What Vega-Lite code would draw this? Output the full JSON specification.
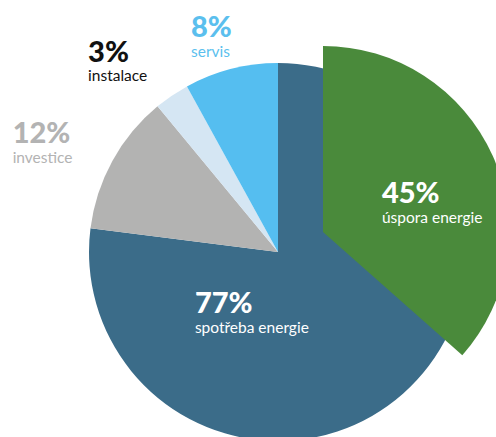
{
  "$schema": "https://vega.github.io/schema/vega-lite/v6.json",
  "width": 436,
  "height": 370,
  "padding": {"left": 60, "top": 67, "right": 0, "bottom": 0},
  "autosize": {"type": "none"},
  "background": "white",
  "view": {"stroke": null},
  "config": {"font": "Lato"},
  "datasets": {
    "main": [
      {"category": "spotřeba energie", "share": 0.77, "order": 1},
      {"category": "investice", "share": 0.12, "order": 2},
      {"category": "instalace", "share": 0.03, "order": 3},
      {"category": "servis", "share": 0.08, "order": 4}
    ],
    "saving": [
      {"category": "úspora energie", "share": 0.45}
    ]
  },
  "resolve": {"scale": {"theta": "independent", "color": "independent"}},
  "layer": [
    {
      "data": {"name": "main"},
      "mark": {"type": "arc", "radius": 189},
      "encoding": {
        "theta": {"field": "share", "type": "quantitative", "stack": true, "scale": {"domain": [0, 1], "range": [0, 6.283185307]}},
        "order": {"field": "order", "type": "quantitative"},
        "color": {"field": "category", "type": "nominal", "legend": null,
          "scale": {"domain": ["spotřeba energie", "investice", "instalace", "servis"], "range": ["#3b6c89", "#b3b3b2", "#d5e6f3", "#55bef0"]}}
      }
    },
    {
      "data": {"name": "saving"},
      "mark": {"type": "arc", "radius": 186, "color": "#4a8a3b", "xOffset": 45, "yOffset": -20},
      "encoding": {
        "theta": {"field": "share", "type": "quantitative", "stack": true, "scale": {"domain": [0, 1], "range": [0, 5.1]}}
      }
    },
    {
      "data": {"name": "main"},
      "mark": {"type": "text", "radius": 80, "dx": -136, "dy": 1, "align": "left", "baseline": "alphabetic", "fontSize": 29, "fontWeight": 900, "color": "white"},
      "encoding": {
        "theta": {"field": "share", "type": "quantitative", "stack": true, "scale": {"domain": [0, 1], "range": [0, 6.283185307]}},
        "order": {"field": "order", "type": "quantitative"},
        "text": {"condition": {"test": "datum.category === 'spotřeba energie'", "field": "share", "type": "quantitative", "format": ".0%"}, "value": ""}
      }
    },
    {
      "data": {"name": "main"},
      "mark": {"type": "text", "radius": 80, "dx": -136, "dy": 21, "align": "left", "baseline": "alphabetic", "fontSize": 15.5, "color": "white"},
      "encoding": {
        "theta": {"field": "share", "type": "quantitative", "stack": true, "scale": {"domain": [0, 1], "range": [0, 6.283185307]}},
        "order": {"field": "order", "type": "quantitative"},
        "text": {"condition": {"test": "datum.category === 'spotřeba energie'", "field": "category", "type": "nominal"}, "value": ""}
      }
    },
    {
      "data": {"name": "main"},
      "mark": {"type": "text", "radius": 280, "dx": -20, "dy": 26, "align": "left", "baseline": "alphabetic", "fontSize": 29, "fontWeight": 900, "color": "#b3b3b3"},
      "encoding": {
        "theta": {"field": "share", "type": "quantitative", "stack": true, "scale": {"domain": [0, 1], "range": [0, 6.283185307]}},
        "order": {"field": "order", "type": "quantitative"},
        "text": {"condition": {"test": "datum.category === 'investice'", "field": "share", "type": "quantitative", "format": ".0%"}, "value": ""}
      }
    },
    {
      "data": {"name": "main"},
      "mark": {"type": "text", "radius": 280, "dx": -20, "dy": 46, "align": "left", "baseline": "alphabetic", "fontSize": 15.5, "color": "#b3b3b3"},
      "encoding": {
        "theta": {"field": "share", "type": "quantitative", "stack": true, "scale": {"domain": [0, 1], "range": [0, 6.283185307]}},
        "order": {"field": "order", "type": "quantitative"},
        "text": {"condition": {"test": "datum.category === 'investice'", "field": "category", "type": "nominal"}, "value": ""}
      }
    },
    {
      "data": {"name": "main"},
      "mark": {"type": "text", "radius": 240, "dx": -55, "dy": 8, "align": "left", "baseline": "alphabetic", "fontSize": 29, "fontWeight": 900, "color": "#111111"},
      "encoding": {
        "theta": {"field": "share", "type": "quantitative", "stack": true, "scale": {"domain": [0, 1], "range": [0, 6.283185307]}},
        "order": {"field": "order", "type": "quantitative"},
        "text": {"condition": {"test": "datum.category === 'instalace'", "field": "share", "type": "quantitative", "format": ".0%"}, "value": ""}
      }
    },
    {
      "data": {"name": "main"},
      "mark": {"type": "text", "radius": 240, "dx": -55, "dy": 27, "align": "left", "baseline": "alphabetic", "fontSize": 15.5, "color": "#111111"},
      "encoding": {
        "theta": {"field": "share", "type": "quantitative", "stack": true, "scale": {"domain": [0, 1], "range": [0, 6.283185307]}},
        "order": {"field": "order", "type": "quantitative"},
        "text": {"condition": {"test": "datum.category === 'instalace'", "field": "category", "type": "nominal"}, "value": ""}
      }
    },
    {
      "data": {"name": "main"},
      "mark": {"type": "text", "radius": 225, "dx": -31, "dy": 3, "align": "left", "baseline": "alphabetic", "fontSize": 29, "fontWeight": 900, "color": "#5bbfee"},
      "encoding": {
        "theta": {"field": "share", "type": "quantitative", "stack": true, "scale": {"domain": [0, 1], "range": [0, 6.283185307]}},
        "order": {"field": "order", "type": "quantitative"},
        "text": {"condition": {"test": "datum.category === 'servis'", "field": "share", "type": "quantitative", "format": ".0%"}, "value": ""}
      }
    },
    {
      "data": {"name": "main"},
      "mark": {"type": "text", "radius": 225, "dx": -31, "dy": 23, "align": "left", "baseline": "alphabetic", "fontSize": 15.5, "color": "#5bbfee"},
      "encoding": {
        "theta": {"field": "share", "type": "quantitative", "stack": true, "scale": {"domain": [0, 1], "range": [0, 6.283185307]}},
        "order": {"field": "order", "type": "quantitative"},
        "text": {"condition": {"test": "datum.category === 'servis'", "field": "category", "type": "nominal"}, "value": ""}
      }
    },
    {
      "data": {"name": "saving"},
      "mark": {"type": "text", "radius": 80, "dx": 31, "dy": -16, "align": "left", "baseline": "alphabetic", "fontSize": 29, "fontWeight": 900, "color": "white"},
      "encoding": {
        "theta": {"field": "share", "type": "quantitative", "stack": true, "scale": {"domain": [0, 1], "range": [0, 5.1]}},
        "text": {"field": "share", "type": "quantitative", "format": ".0%"}
      }
    },
    {
      "data": {"name": "saving"},
      "mark": {"type": "text", "radius": 80, "dx": 31, "dy": 4, "align": "left", "baseline": "alphabetic", "fontSize": 15.5, "color": "white"},
      "encoding": {
        "theta": {"field": "share", "type": "quantitative", "stack": true, "scale": {"domain": [0, 1], "range": [0, 5.1]}},
        "text": {"field": "category", "type": "nominal"}
      }
    }
  ]
}
